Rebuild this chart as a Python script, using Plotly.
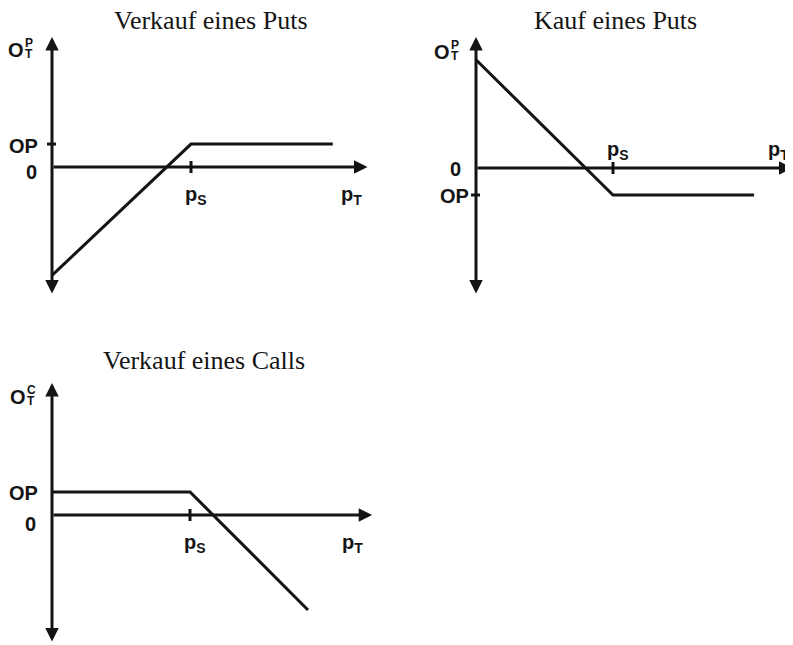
import plotly.graph_objects as go

PAGE_MARGIN = 8                      # browser default body margin
W, H = 793 - PAGE_MARGIN, 645 - PAGE_MARGIN

# ---- data (abstract units: strike price p_S = 100) ----
titles = ["Verkauf eines Puts", "Kauf eines Puts", "Verkauf eines Calls"]
y_names = ["P", "P", "C"]
strike = [100, 100, 100]
premium = [16.5, -19.7, 16.7]          # OP level per panel
p1_x = [0, 100, 202]
p1_y = [-78, 16.5, 16.5]
p2_x = [0, 100, 203]
p2_y = [79, -19.7, -19.7]
p3_x = [0, 100, 185.5]
p3_y = [16.7, 16.7, -68.8]
x_end = [227, 231, 232]
y_top = [93.5, 95.6, 95.6]
y_bot = [-92, -92.7, -92.8]

# ---- layout geometry (pixel origin in window and px per unit) ----
origins = [(52, 167), (476, 168), (52, 515)]
scales = [1.39, 1.37, 1.38]
title_pos = [(211, 20), (615, 20), (204, 360)]

INK = "#141414"
fig = go.Figure()
series = [(p1_x, p1_y), (p2_x, p2_y), (p3_x, p3_y)]
ann = []
shapes = []
lay = {}
for i in range(3):
    n = "" if i == 0 else str(i + 1)
    xr, yr = "x" + n, "y" + n
    ox, oy = origins[i][0] - PAGE_MARGIN, origins[i][1] - PAGE_MARGIN
    s = scales[i]
    lay["xaxis" + n] = dict(domain=[0, 1], range=[-ox / s, (W - ox) / s], visible=False,
                            anchor=yr, fixedrange=True)
    lay["yaxis" + n] = dict(domain=[0, 1], range=[(oy - H) / s, oy / s], visible=False,
                            anchor=xr, fixedrange=True)
    xs, ys = series[i]
    fig.add_trace(go.Scatter(x=xs, y=ys, mode="lines", xaxis=xr, yaxis=yr,
                             line=dict(color=INK, width=3), hoverinfo="skip",
                             showlegend=False, cliponaxis=False))
    # axes arrows
    ann.append(dict(xref=xr, yref=yr, axref=xr, ayref=yr, x=x_end[i], y=0, ax=0, ay=0,
                    showarrow=True, arrowhead=2, arrowsize=0.9, arrowwidth=3,
                    arrowcolor=INK, text="", standoff=0))
    ann.append(dict(xref=xr, yref=yr, axref=xr, ayref=yr, x=0, y=y_top[i], ax=0, ay=y_bot[i],
                    showarrow=True, arrowhead=2, startarrowhead=2, arrowside="end+start",
                    arrowsize=0.9, startarrowsize=0.9, arrowwidth=3,
                    arrowcolor=INK, text="", standoff=0, startstandoff=0))
    # ticks
    shapes.append(dict(type="line", xref=xr, yref=yr, x0=strike[i], x1=strike[i],
                       ysizemode="pixel", yanchor=0, y0=-6, y1=6,
                       line=dict(color=INK, width=3)))
    if i < 2:
        shapes.append(dict(type="line", xref=xr, yref=yr, y0=premium[i], y1=premium[i],
                           xsizemode="pixel", xanchor=0, x0=-5, x1=4,
                           line=dict(color=INK, width=3)))
    # title
    tx, ty = title_pos[i][0] - PAGE_MARGIN, title_pos[i][1] - PAGE_MARGIN
    ann.append(dict(xref="paper", yref="paper", x=tx / W, y=1 - ty / H, text=titles[i],
                    showarrow=False, xanchor="center", yanchor="middle", borderpad=0,
                    font=dict(family="Liberation Serif", size=26, color=INK)))

lab = dict(family="Liberation Sans", size=20, color=INK)
small = dict(family="Liberation Sans", size=12, color=INK)

def label(i, x, y, text, xs, ys, xa="center", font=lab):
    n = "" if i == 0 else str(i + 1)
    ann.append(dict(xref="x" + n, yref="y" + n, x=x, y=y, text=text, showarrow=False,
                    xanchor=xa, yanchor="middle", xshift=xs, yshift=ys, font=font,
                    borderpad=0))

# y-axis name O_T^X (stacked super/subscript)
o_shift = [(-36, -13), (-34, -15), (-34, -14)]
for i in range(3):
    dx, dy = o_shift[i]
    label(i, 0, y_top[i], "<b>O</b>", dx, dy)
    label(i, 0, y_top[i], "<b>%s</b>" % y_names[i], dx + 13, dy + 7, font=small)
    label(i, 0, y_top[i], "<b>T</b>", dx + 13, dy - 4, font=small)

# OP and 0 labels
op_shift = [(-13, -2), (-6, -1), (-13, -1)]
zero_shift = [(-14, -5), (-14, -1), (-15, -9)]
for i in range(3):
    label(i, 0, premium[i], "<b>OP</b>", op_shift[i][0], op_shift[i][1], xa="right")
    label(i, 0, 0, "<b>0</b>", zero_shift[i][0], zero_shift[i][1], xa="right")

# p_S and p_T labels
ps_shift = [(5, -28), (5, 18), (5, -28)]
pt_shift = [(-5, -28), (-2, 18), (-8, -28)]
for i in range(3):
    label(i, strike[i], 0, "<b>p<sub>S</sub></b>", ps_shift[i][0], ps_shift[i][1])
    label(i, x_end[i], 0, "<b>p<sub>T</sub></b>", pt_shift[i][0], pt_shift[i][1], xa="right")

fig.update_layout(width=W, height=H, margin=dict(l=0, r=0, t=0, b=0),
                  paper_bgcolor="white", plot_bgcolor="rgba(0,0,0,0)",
                  annotations=ann, shapes=shapes, **lay)
fig.write_html("out.html")
